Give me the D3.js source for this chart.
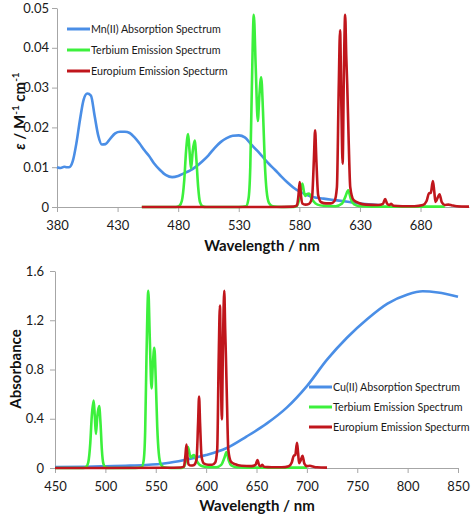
<!DOCTYPE html>
<html><head><meta charset="utf-8">
<script src="https://cdn.jsdelivr.net/npm/d3@7"></script>
<style>
body{margin:0;background:#fff;}
svg{font-family:Lato,"Open Sans",sans-serif;}
</style></head>
<body><svg id="c" width="472" height="514"></svg>
<script>
// ---------- DATA ----------
const topXTicks = [380, 430, 480, 530, 580, 630, 680];
const topYTicks = [0, 0.01, 0.02, 0.03, 0.04, 0.05];
const botXTicks = [450, 500, 550, 600, 650, 700, 750, 800, 850];
const botYTicks = [0, 0.4, 0.8, 1.2, 1.6];

const topLegend = ["Mn(II) Absorption Spectrum", "Terbium Emission Spectrum", "Europium Emission Specturm"];
const botLegend = ["Cu(II) Absorption Spectrum", "Terbium Emission Spectrum", "Europium Emission Specturm"];

// [wavelength nm, molar absorptivity]
const mnAbsorption = [
 [380,0.0100],[383,0.0098],[386,0.0101],[388,0.0100],[390,0.0100],[393,0.0115],[396,0.0160],[399,0.0220],
 [402,0.0270],[405,0.0285],[408,0.0280],[411,0.0230],[414,0.0180],[417,0.0157],[420,0.0158],[424,0.0172],
 [428,0.0185],[432,0.0189],[436,0.0189],[440,0.0186],[444,0.0175],[448,0.0160],[452,0.0143],[456,0.0128],
 [460,0.0110],[465,0.0093],[470,0.0080],[475,0.0075],[480,0.0078],[485,0.0085],[490,0.0092],[495,0.0102],
 [500,0.0115],[505,0.0130],[510,0.0148],[515,0.0163],[520,0.0173],[525,0.0179],[530,0.0180],[535,0.0175],
 [540,0.0158],[545,0.0142],[550,0.0125],[555,0.0108],[560,0.0093],[565,0.0077],[570,0.0062],[575,0.0049],
 [580,0.0039],[585,0.0032],[590,0.0026],[600,0.0021],[610,0.0017],[620,0.0013],[630,0.0009],[640,0.0006],[648,0.0004]
];
const tbEmissionTop = [
 [450,0],[478,0],[481,0.0003],[483,0.0015],[485,0.0067],[486.5,0.014],[488.2,0.0183],[489.4,0.014],[490.6,0.0096],
 [492,0.014],[493.6,0.0167],[495,0.012],[496.5,0.005],[498,0.0012],[500,0.0002],[503,0],[530,0],[536,0.0002],
 [538,0.002],[539.5,0.01],[540.8,0.03],[542.4,0.0483],[544,0.035],[545.7,0.0216],[547,0.028],[548.5,0.0326],
 [550,0.024],[551.5,0.011],[553,0.004],[555,0.001],[558,0.0002],[565,0],[575,0],[578,0.0003],[580,0.002],
 [582.5,0.0059],[584,0.0035],[585,0.0028],[586.5,0.0033],[588,0.0034],[590,0.0023],[592,0.0013],[595,0.0006],
 [600,0.0003],[610,0.0002],[615,0.0008],[618,0.0026],[620.3,0.0042],[622.5,0.002],[625,0.0007],[630,0.0002],
 [640,0.0001],[700,0.0001]
];
const euEmissionTop = [
 [450,0],[560,0],[575,0.0001],[578,0.0004],[579.3,0.003],[580.3,0.0063],[581.3,0.003],[582.5,0.0009],[585,0.0006],
 [588,0.0008],[590.5,0.0025],[592,0.012],[593,0.0193],[594,0.012],[595.5,0.003],[598,0.0012],[602,0.0009],
 [606,0.0009],[609,0.0015],[611,0.005],[612.5,0.03],[613.6,0.0444],[614.7,0.025],[615.7,0.0109],[616.8,0.035],
 [617.8,0.0483],[618.7,0.038],[619.5,0.0308],[620.7,0.0167],[622,0.005],[624.8,0.0017],[629,0.001],[635,0.0006],
 [645,0.0005],[649,0.0008],[650.8,0.002],[652.5,0.0008],[654,0.0005],[655.8,0.0008],[657.5,0.0003],[665,0.0002],
 [675,0.0002],[682,0.0005],[685,0.0015],[686.9,0.0034],[688.5,0.0036],[690.2,0.0065],[691.3,0.004],[692.3,0.0013],
 [694,0.0022],[695.7,0.0032],[697.5,0.0012],[700,0.0005],[703,0.0006],[706,0.0004],[710,0.0002],[720,0.0001]
];

// [wavelength nm, absorbance]
const cuAbsorption = [
 [450,0.008],[480,0.010],[500,0.014],[520,0.018],[540,0.024],[560,0.038],[580,0.068],[600,0.105],[620,0.160],
 [640,0.255],[660,0.360],[680,0.490],[700,0.665],[720,0.880],[740,1.060],[760,1.210],[780,1.335],[800,1.410],
 [815,1.435],[830,1.425],[850,1.390]
];
const tbEmissionBottom = [
 [450,0],[478,0],[481,0.01],[483,0.045],[485,0.2],[486.5,0.42],[488.4,0.547],[489.5,0.42],[490.6,0.276],[492,0.42],
 [493.8,0.503],[495.2,0.36],[496.5,0.15],[498,0.036],[500,0.006],[503,0],[530,0],[536,0.006],[538,0.06],[539.5,0.3],
 [540.8,0.9],[542.6,1.44],[544.1,1.05],[545.8,0.647],[547.1,0.84],[548.6,0.977],[550,0.72],[551.5,0.33],[553,0.12],
 [555,0.03],[558,0.006],[565,0],[575,0],[578,0.01],[580,0.06],[582,0.17],[584,0.1],[585,0.085],[586.5,0.1],[588,0.105],
 [590,0.07],[592,0.04],[595,0.018],[600,0.009],[610,0.006],[615,0.025],[618,0.08],[620.3,0.13],[622.5,0.06],[625,0.02],
 [630,0.006],[640,0.003],[700,0.003]
];
const euEmissionBottom = [
 [450,0],[560,0.002],[575,0.004],[578,0.012],[579.3,0.09],[580.5,0.19],[581.5,0.09],[582.5,0.03],[585,0.02],[588,0.025],
 [590.5,0.07],[592,0.36],[593,0.58],[594,0.36],[595.5,0.09],[598,0.035],[602,0.027],[606,0.027],[609,0.045],[611,0.15],
 [612.5,0.9],[613.7,1.32],[614.7,0.75],[615.6,0.395],[616.8,1.05],[618,1.44],[618.9,1.13],[619.6,0.92],[620.8,0.5],
 [622,0.15],[624.8,0.05],[629,0.03],[635,0.018],[645,0.015],[649,0.025],[651,0.065],[652.5,0.025],[654,0.015],
 [655.8,0.025],[657.5,0.01],[665,0.006],[675,0.006],[682,0.015],[685,0.045],[687,0.1],[688.5,0.105],[690.2,0.205],
 [691.3,0.12],[692.3,0.04],[694,0.065],[695.7,0.1],[697.5,0.035],[700,0.015],[703,0.018],[706,0.012],[710,0.006],[720,0.003]
];

// ---------- DRAW ----------
const colors = ["#4a8ee6", "#3cf03c", "#c0161c"];
const svg = d3.select("#c");

function panel(o) {
  const x = d3.scaleLinear().domain(o.xDomain).range(o.xRange);
  const y = d3.scaleLinear().domain(o.yDomain).range(o.yRange);
  const g = svg.append("g");

  const xa = g.append("g").attr("transform", `translate(0,${o.yRange[0]})`)
    .call(d3.axisBottom(x).tickValues(o.xTicks).tickSize(5).tickSizeOuter(0).tickFormat(d3.format("d")));
  const ya = g.append("g").attr("transform", `translate(${o.xRange[0]},0)`)
    .call(d3.axisLeft(y).tickValues(o.yTicks).tickSize(5).tickSizeOuter(0).tickFormat(o.yFmt));
  [xa, ya].forEach(a => {
    a.select(".domain").attr("stroke", "#a6a6a6").attr("stroke-width", 1);
    a.selectAll(".tick line").attr("stroke", "#a6a6a6");
    a.selectAll(".tick text").attr("fill", "#1a1a1a").attr("font-size", 13).attr("font-family", "Lato");
  });
  xa.selectAll(".tick text").attr("dy", "1.15em");
  ya.selectAll(".tick text").attr("dx", o.yLabDx);

  const line = d3.line().x(d => x(d[0])).y(d => y(d[1])).curve(d3.curveMonotoneX);
  o.series.forEach((s, i) => {
    g.append("path").datum(s).attr("d", line).attr("fill", "none")
      .attr("stroke", colors[i]).attr("stroke-width", 2.6).attr("stroke-linejoin", "round");
  });

  // legend
  o.legend.forEach((t, i) => {
    const ly = o.legY + i * o.legGap;
    g.append("line").attr("x1", o.legX).attr("x2", o.legX + 23).attr("y1", ly).attr("y2", ly)
      .attr("stroke", colors[i]).attr("stroke-width", 3);
    g.append("text").attr("x", o.legX + 24).attr("y", ly).attr("dy", "0.35em")
      .attr("font-size", 10.7).attr("fill", "#1a1a1a").text(t);
  });

  g.append("text").attr("x", o.xTitleX).attr("y", o.xTitleY).attr("text-anchor", "middle")
    .attr("font-weight", "bold").attr("font-size", 15).attr("fill", "#111").text("Wavelength / nm");
  return g;
}

const gTop = panel({
  xDomain: [380, 720], xRange: [57, 469], yDomain: [0, 0.05], yRange: [207, 8],
  xTicks: topXTicks, yTicks: topYTicks, yFmt: d => d === 0 ? "0" : d3.format(".2f")(d), yLabDx: 0,
  series: [mnAbsorption, tbEmissionTop, euEmissionTop],
  legend: topLegend, legX: 67, legY: 29, legGap: 21,
  xTitleX: 262, xTitleY: 251
});
// y title top
const yt = gTop.append("text").attr("transform", "translate(25,111) rotate(-90)")
  .attr("text-anchor", "middle").attr("font-weight", "bold").attr("font-size", 15).attr("fill", "#111");
yt.append("tspan").attr("font-style", "italic").text("ε");
yt.append("tspan").text(" / M");
yt.append("tspan").attr("font-size", 10).attr("dy", -6).text("-1");
yt.append("tspan").attr("dy", 6).text(" cm");
yt.append("tspan").attr("font-size", 10).attr("dy", -6).text("-1");

const gBot = panel({
  xDomain: [450, 850], xRange: [55, 458], yDomain: [0, 1.6], yRange: [468, 271],
  xTicks: botXTicks, yTicks: botYTicks, yFmt: d => d === 0 ? "0" : d3.format(".1f")(d), yLabDx: -3,
  series: [cuAbsorption, tbEmissionBottom, euEmissionBottom],
  legend: botLegend, legX: 309, legY: 387, legGap: 20,
  xTitleX: 257, xTitleY: 511
});
gBot.append("text").attr("transform", "translate(21,369) rotate(-90)")
  .attr("text-anchor", "middle").attr("font-weight", "bold").attr("font-size", 15).attr("fill", "#111")
  .text("Absorbance");
</script></body></html>
